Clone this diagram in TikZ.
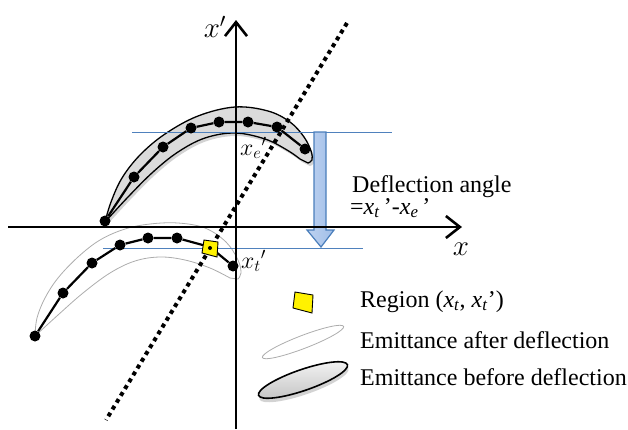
\documentclass[tikz,border=0pt]{standalone}
\usepackage{graphicx}
\usepackage{fontspec}
\setmainfont{Liberation Serif}
\usetikzlibrary{shapes.geometric,shadows,arrows.meta}
\definecolor{lineblue}{RGB}{79,129,189}
\definecolor{arrowedge}{RGB}{74,126,187}
\definecolor{arrowL}{RGB}{190,210,240}
\definecolor{arrowM}{RGB}{232,240,252}
\definecolor{arrowR}{RGB}{160,190,232}
\newcommand{\biglbl}[1]{\scalebox{1.4}{\fontsize{22}{26}\selectfont$#1$}}
\newcommand{\midlbl}[1]{\scalebox{1.15}{\fontsize{20}{24}\selectfont$#1$}}
\begin{document}
\begin{tikzpicture}[x=1pt,y=-1pt,
  dot/.style={circle,fill=black,inner sep=0pt,minimum size=11pt},
  axisline/.style={line width=2.6pt,-{Straight Barb[length=14pt,width=22pt]}},
  dotline/.style={line width=4pt,dash pattern=on 4pt off 4pt},
  blueline/.style={lineblue,line width=1pt},
  curve/.style={line width=2.2pt},
  lbl/.style={font=\fontsize{24}{28}\selectfont,inner sep=0pt},
  mlbl/.style={inner sep=0pt}]
\useasboundingbox (0,0) rectangle (628,429);

% lower (after deflection) emittance outline
\draw[gray!65,line width=0.8pt]
  plot[smooth,tension=0.6] coordinates {(35,336) (37,318) (45,298) (58,278) (78,257) (100,240) (125,229) (150,224) (178,223) (205,228) (226,242) (238,260) (241,273) (238,279)}
  -- plot[smooth,tension=0.6] coordinates {(230,278) (210,268) (185,260) (160,257) (135,261) (110,273) (83,293) (58,315) (35,336)} -- cycle;

% upper (before deflection) emittance
\draw[fill=gray!28,line width=1.3pt,drop shadow={shadow xshift=2pt,shadow yshift=-3pt,opacity=0.35}]
  plot[smooth,tension=0.6] coordinates {(105,222) (111,202) (122,178) (140,155) (165,134) (198,116) (235,107) (268,111) (290,122) (304,137) (311,151) (312,160) (308,163)}
  -- plot[smooth,tension=0.6] coordinates {(300,159) (287,150) (265,139) (235,133) (205,138) (178,152) (153,172) (128,197) (105,222)} -- cycle;

% blue level lines
\coordinate (bu1) at (132,132); \coordinate (bu2) at (392,132);
\coordinate (bl1) at (103,248.5); \coordinate (bl2) at (363,248.5);
\draw[blueline] (bu1) -- (bu2);
\draw[blueline] (bl1) -- (bl2);

% deflection arrow
\path[draw=arrowedge,line width=1.2pt,left color=arrowL,middle color=arrowM,right color=arrowR]
  (314,132) -- (326,132) -- (326,230) -- (334,230) -- (321,247) -- (307,230) -- (314,230) -- cycle;

% axes
\coordinate (xl) at (8,227); \coordinate (xr) at (462,227);
\coordinate (yb) at (236,429); \coordinate (yt) at (236,20);
\draw[axisline] (xl) -- (xr);
\draw[axisline] (yb) -- (yt);

% dotted line
\coordinate (d1) at (347,23); \coordinate (d2) at (106,420);
\draw[dotline] (d1) -- (d2);

% upper curve
\node[dot] (u1) at (105,221) {};
\node[dot] (u2) at (134,177) {};
\node[dot] (u3) at (163,147) {};
\node[dot] (u4) at (191,128) {};
\node[dot] (u5) at (219,122) {};
\node[dot] (u6) at (248,122) {};
\node[dot] (u7) at (277,127) {};
\node[dot] (u8) at (305,149) {};
\draw[curve] (u1) -- (u2) -- (u3) -- (u4) -- (u5) -- (u6) -- (u7) -- (u8);

% lower curve
\node[dot] (l1) at (35,336) {};
\node[dot] (l2) at (63,293) {};
\node[dot] (l3) at (92,263) {};
\node[dot] (l4) at (120,245) {};
\node[dot] (l5) at (148,238) {};
\node[dot] (l6) at (177,238) {};
\node[dot] (l7) at (210,247) {};
\node[dot] (l8) at (233,266) {};
\draw[curve] (l1) -- (l2) -- (l3) -- (l4) -- (l5) -- (l6) -- (l7) -- (l8);

% region marker on curve
\draw[fill=yellow,line width=0.9pt,shift={(210,248)}] (-6,-8) -- (8,-6) -- (7,9) -- (-8,5) -- cycle;
\fill (210,248) circle (2pt);

% labels
\node[mlbl] (lxp) at (215,27) {\biglbl{x'}};
\node[mlbl] (lx) at (461,249) {\biglbl{x}};
\node[mlbl,anchor=base west] (lxe) at (240,155) {\midlbl{x_e{}'}};
\node[mlbl,anchor=base west] (lxt) at (241,268) {\midlbl{x_t{}'}};
\node[lbl,anchor=base west] (defl) at (352,192) {Deflection angle};
\node[lbl,anchor=base west] (defl2) at (350,214) {=\textit{x}\textsubscript{\textit{t}}\,’-\textit{x}\textsubscript{\textit{e}}\,’};

% legend
\draw[fill=yellow,line width=0.9pt,shift={(303,302)}] (-8,-10) -- (10,-7) -- (9,11) -- (-10,6) -- cycle;
\node[lbl,anchor=base west] (lreg) at (360,307) {Region (\textit{x}\textsubscript{\textit{t}}, \textit{x}\textsubscript{\textit{t}}’)};
\node[ellipse,draw=gray!65,line width=0.8pt,minimum width=87pt,minimum height=13pt,inner sep=0pt,rotate=21] (ea) at (303,342) {};
\node[lbl,anchor=base west] (laft) at (360,348) {Emittance after deflection};
\node[ellipse,draw,line width=1.6pt,top color=gray!8,bottom color=gray!45,drop shadow={shadow xshift=1pt,shadow yshift=-4pt,opacity=0.35},minimum width=94pt,minimum height=21pt,inner sep=0pt,rotate=19] (eb) at (303,380) {};
\node[lbl,anchor=base west] (lbef) at (360,385) {Emittance before deflection};
\end{tikzpicture}
\end{document}
